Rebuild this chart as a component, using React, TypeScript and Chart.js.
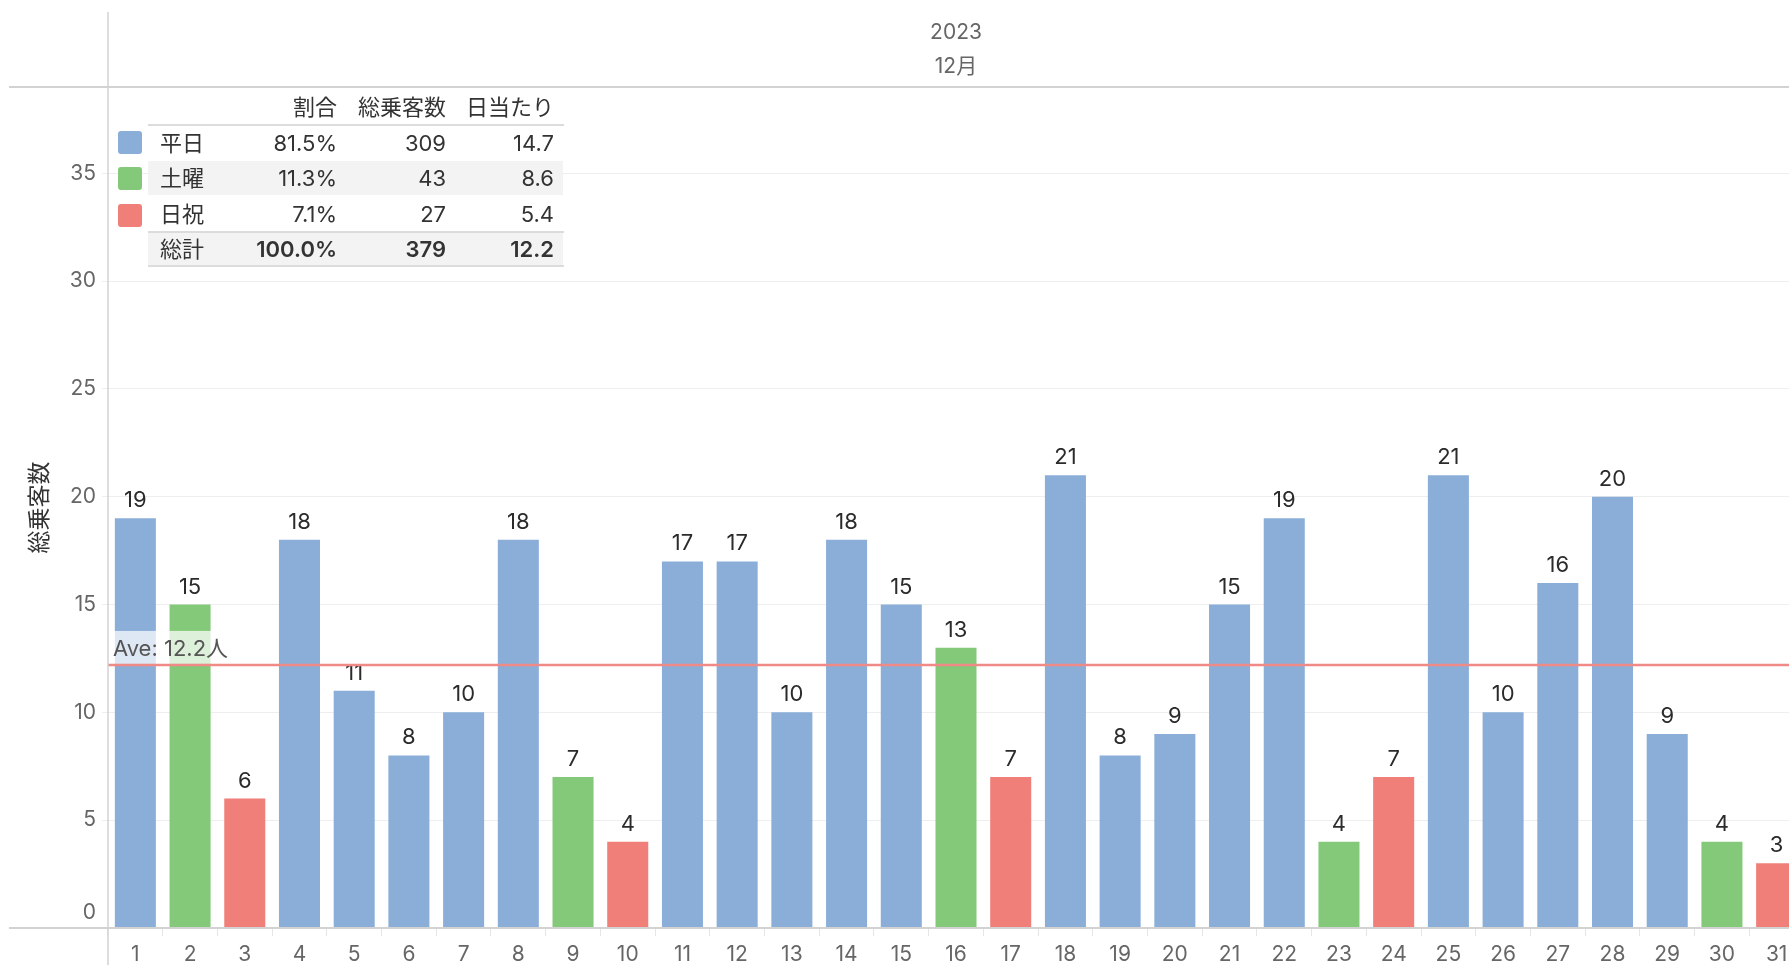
import React, { useEffect, useRef } from 'react';
import { Chart, registerables } from 'chart.js';

Chart.register(...registerables);

// ---------- data ----------
const days = ['1','2','3','4','5','6','7','8','9','10','11','12','13','14','15','16','17','18','19','20','21','22','23','24','25','26','27','28','29','30','31'];
const riders = [19,15,6,18,11,8,10,18,7,4,17,17,10,18,15,13,7,21,8,9,15,19,4,7,21,10,16,20,9,4,3];
const dayTypes = ['平日','土曜','日祝','平日','平日','平日','平日','平日','土曜','日祝','平日','平日','平日','平日','平日','土曜','日祝','平日','平日','平日','平日','平日','土曜','日祝','平日','平日','平日','平日','平日','土曜','日祝'];
const yTicks = [0,5,10,15,20,25,30,35];
const averageValue = 12.2;
const averageLabel = 'Ave: 12.2人';
const yearLabel = '2023';
const monthLabel = '12月';
const yTitle = '総乗客数';

const tableHeaders = ['割合','総乗客数','日当たり'];
const legendLabels = ['平日','土曜','日祝'];
const legendShare = ['81.5%','11.3%','7.1%'];
const legendTotal = ['309','43','27'];
const legendPerDay = ['14.7','8.6','5.4'];
const totalRow = ['総計','100.0%','379','12.2'];

// ---------- styles ----------
const typeColors: Record<string, string> = { '平日': '#8aaed8', '土曜': '#84c97a', '日祝': '#ef7f78' };
const FONT = "Inter, 'Noto Sans CJK JP', sans-serif";
const CANVAS_W = 1804;

const overlayPlugin = {
  id: 'overlay',
  beforeDraw(chart: any) {
    const { ctx } = chart;
    ctx.save();
    ctx.fillStyle = '#ffffff';
    ctx.fillRect(0, 0, chart.width, chart.height);
    ctx.restore();
  },
  afterDatasetsDraw(chart: any) {
    const { ctx, chartArea, scales } = chart;
    const meta = chart.getDatasetMeta(0);
    ctx.save();
    // value labels
    ctx.font = `22px ${FONT}`;
    ctx.fillStyle = '#2b2b2b';
    ctx.textAlign = 'center';
    ctx.textBaseline = 'alphabetic';
    meta.data.forEach((bar: any, i: number) => {
      ctx.fillText(String(riders[i]), bar.x, bar.y - 11);
    });
    // average line
    const ay = scales.y.getPixelForValue(averageValue);
    ctx.font = `22px ${FONT}`;
    const tw = ctx.measureText(averageLabel).width;
    ctx.fillStyle = 'rgba(255,255,255,0.72)';
    ctx.fillRect(chartArea.left + 6, ay - 34, tw + 4, 33);
    ctx.strokeStyle = '#f08a86';
    ctx.lineWidth = 2.5;
    ctx.beginPath();
    ctx.moveTo(chartArea.left, ay);
    ctx.lineTo(chartArea.right, ay);
    ctx.stroke();
    ctx.fillStyle = '#555';
    ctx.textAlign = 'left';
    ctx.fillText(averageLabel, chartArea.left + 5, ay - 9);
    ctx.restore();
  },
  afterDraw(chart: any) {
    const { ctx, chartArea, scales } = chart;
    ctx.save();
    // y tick labels (0 lifted above the axis line)
    ctx.fillStyle = '#666';
    ctx.font = `21px ${FONT}`;
    ctx.textAlign = 'right';
    ctx.textBaseline = 'middle';
    yTicks.forEach((v) => {
      let py = scales.y.getPixelForValue(v);
      if (v === 0) py -= 15;
      ctx.fillText(String(v), 96, py);
    });
    // frame lines
    ctx.strokeStyle = '#d2d2d2';
    ctx.lineWidth = 2;
    ctx.beginPath();
    ctx.moveTo(9, chartArea.top);
    ctx.lineTo(chart.width, chartArea.top);
    ctx.moveTo(9, chartArea.bottom);
    ctx.lineTo(chart.width, chartArea.bottom);
    ctx.stroke();
    ctx.lineWidth = 1.5;
    ctx.beginPath();
    ctx.moveTo(chartArea.left, 12);
    ctx.lineTo(chartArea.left, chart.height);
    ctx.stroke();
    // header
    const cx = (chartArea.left + chartArea.right) / 2;
    ctx.fillStyle = '#666';
    ctx.font = `21px ${FONT}`;
    ctx.textAlign = 'center';
    ctx.textBaseline = 'middle';
    ctx.fillText(yearLabel, cx, 33);
    ctx.fillText(monthLabel, cx, 67);
    // y title
    ctx.translate(40, (chartArea.top + chartArea.bottom) / 2);
    ctx.rotate(-Math.PI / 2);
    ctx.fillStyle = '#333';
    ctx.font = `23px ${FONT}`;
    ctx.fillText(yTitle, 0, 0);
    ctx.restore();
  },
};

function LegendTable() {
  const cell = (text: string, right: number, top: number, bold = false, align: 'right' | 'left' = 'right') => (
    <div
      key={`${text}-${right}-${top}`}
      style={{
        position: 'absolute',
        left: align === 'right' ? right - 200 : right,
        width: 200,
        top: top - 15,
        height: 30,
        lineHeight: '30px',
        textAlign: align,
        fontSize: 22,
        fontWeight: bold ? 600 : 400,
        color: '#333',
        fontFamily: FONT,
        whiteSpace: 'nowrap',
      }}
    >
      {text}
    </div>
  );
  const cols = [337, 446, 554];
  const rowY = [143, 178, 214];
  const swatchTop = [131, 167, 204];
  return (
    <div style={{ position: 'absolute', left: 0, top: 0, width: 600, height: 320, pointerEvents: 'none' }}>
      <div style={{ position: 'absolute', left: 148, top: 161, width: 415, height: 34, background: '#f3f3f3' }} />
      <div style={{ position: 'absolute', left: 148, top: 232, width: 415, height: 33, background: '#f3f3f3' }} />
      <div style={{ position: 'absolute', left: 148, top: 124, width: 416, height: 2, background: '#dcdcdc' }} />
      <div style={{ position: 'absolute', left: 148, top: 231, width: 416, height: 2, background: '#dcdcdc' }} />
      <div style={{ position: 'absolute', left: 148, top: 265, width: 416, height: 2, background: '#dcdcdc' }} />
      {tableHeaders.map((h, i) => cell(h, cols[i], 107))}
      {legendLabels.map((lab, r) => (
        <React.Fragment key={lab}>
          <div style={{ position: 'absolute', left: 118, top: swatchTop[r], width: 24, height: 23, borderRadius: 3, background: typeColors[lab] }} />
          {cell(lab, 160, rowY[r], false, 'left')}
          {cell(legendShare[r], cols[0], rowY[r])}
          {cell(legendTotal[r], cols[1], rowY[r])}
          {cell(legendPerDay[r], cols[2], rowY[r])}
        </React.Fragment>
      ))}
      {cell(totalRow[0], 160, 249, false, 'left')}
      {cell(totalRow[1], cols[0], 249, true)}
      {cell(totalRow[2], cols[1], 249, true)}
      {cell(totalRow[3], cols[2], 249, true)}
    </div>
  );
}

export default function App() {
  const canvasRef = useRef<HTMLCanvasElement | null>(null);

  useEffect(() => {
    const canvas = canvasRef.current;
    if (!canvas) return;
    const chart = new Chart(canvas, {
      type: 'bar',
      data: {
        labels: days,
        datasets: [
          {
            label: yTitle,
            data: riders,
            backgroundColor: dayTypes.map((t) => typeColors[t]),
            barPercentage: 0.75,
            categoryPercentage: 1.0,
          },
        ],
      },
      options: {
        animation: false,
        responsive: false,
        devicePixelRatio: 1,
        layout: { padding: { top: 87, left: 0, right: 0, bottom: 0 } },
        plugins: { legend: { display: false }, tooltip: { enabled: false }, title: { display: false } },
        scales: {
          x: {
            grid: { display: true, drawOnChartArea: false, drawTicks: true, tickLength: 8, color: '#e6e6e6', offset: true },
            border: { display: false },
            ticks: { color: '#666', font: { size: 21, family: FONT }, padding: 6, maxRotation: 0, autoSkip: false },
            afterFit: (s: any) => { s.height = 37; },
          },
          y: {
            min: 0,
            max: 39,
            grid: { color: '#eeeeee', drawTicks: true, tickLength: 6 },
            border: { display: false },
            ticks: { display: false },
            afterBuildTicks: (s: any) => { s.ticks = yTicks.map((v) => ({ value: v })); },
            afterFit: (s: any) => { s.width = 108; },
          },
        },
      },
      plugins: [overlayPlugin],
    });
    return () => chart.destroy();
  }, []);

  return (
    <div style={{ position: 'fixed', left: 0, top: 0, width: '100vw', height: '100vh', overflow: 'hidden', background: '#fff' }}>
      <canvas ref={canvasRef} width={CANVAS_W} height={965} style={{ display: 'block', width: CANVAS_W, height: 965 }} />
      <LegendTable />
    </div>
  );
}
